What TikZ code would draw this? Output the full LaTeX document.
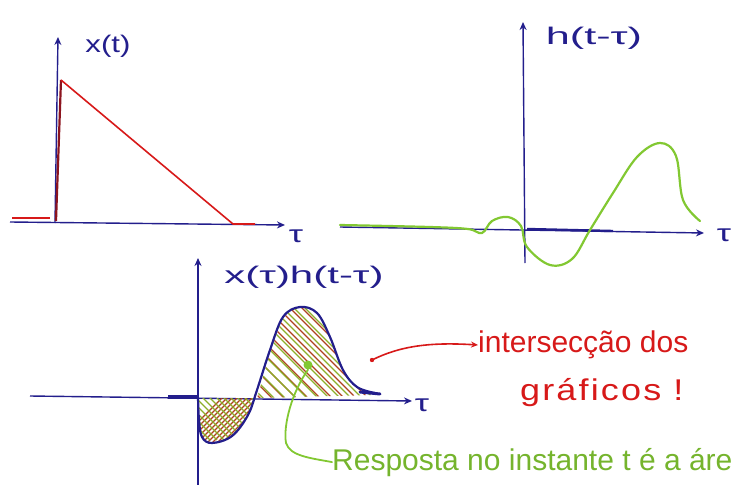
\documentclass[tikz,border=0pt]{standalone}
\usepackage{graphicx}
\usepackage{fontspec}
\setmainfont{Liberation Sans}
\usetikzlibrary{arrows.meta}
\definecolor{axisblue}{RGB}{35,30,140}
\definecolor{penred}{RGB}{215,25,25}
\definecolor{darkred}{RGB}{140,20,30}
\definecolor{pengreen}{RGB}{130,200,50}
\definecolor{hatchbrown}{RGB}{175,65,30}
\definecolor{hatchgreen}{RGB}{140,175,40}
\newcommand{\lsp}[1]{\addfontfeature{LetterSpace=#1}}
\begin{document}
\begin{tikzpicture}[x=1pt,y=-1pt,
  axis/.style={axisblue, line width=1.4pt, -{Stealth[length=8pt,width=7pt]}},
  lbl/.style={text=axisblue, inner sep=0pt, font=\fontsize{24}{24}\selectfont},
  redtxt/.style={text=penred, inner sep=0pt, font=\fontsize{30}{30}\selectfont},
  greentxt/.style={text=pengreen!90!black, inner sep=0pt, font=\fontsize{30}{30}\selectfont},
  redpen/.style={penred, line width=1.6pt},
  greenpen/.style={pengreen, line width=2.2pt, line cap=round, line join=round},
  bluepen/.style={axisblue, line width=2.2pt, line cap=round, line join=round},
  hb/.style={hatchbrown, line width=1.1pt},
  hg/.style={hatchgreen, line width=1.1pt}]
\useasboundingbox (0,0) rectangle (740,485);

% ---------- top-left: x(t) ----------
\coordinate (A1b) at (55,223);
\coordinate (A1t) at (58,37);
\coordinate (A1l) at (10,222);
\coordinate (A1r) at (285,225);
\draw[axis] (A1l) -- (A1r);
\draw[axis] (A1b) -- (A1t);
\node[lbl] (xt) at (108,46) {\scalebox{1.3}[1]{x(t)}};
\node[lbl] (tau1) at (296,236) {\scalebox{1.5}[1]{τ}};
\coordinate (X0) at (56,221);
\coordinate (Xp) at (61,80);
\coordinate (Xe) at (233,224);
\coordinate (Xf) at (255,224);
\draw[redpen] (12,218) -- (50,218);
\draw[darkred, line width=2.2pt] (X0) -- (Xp);
\draw[redpen] (Xp) -- (Xe) -- (Xf);

% ---------- top-right: h(t-tau) ----------
\coordinate (A2b) at (525,263);
\coordinate (A2t) at (523,22);
\coordinate (A2l) at (340,227);
\coordinate (A2r) at (704,233);
\draw[axis] (A2l) -- (A2r);
\draw[axis] (A2b) -- (A2t);
\draw[axisblue, line width=2.4pt] (527,229) -- (613,231);
\node[lbl] (ht) at (594,38) {\scalebox{1.8}[1]{h(t-τ)}};
\node[lbl] (tau2) at (724,235) {\scalebox{1.5}[1]{τ}};
\draw[greenpen] plot[smooth, tension=0.6] coordinates {(340,225) (430,227) (468,229) (482,233) (492,221) (508,217) (521,226) (527,247) (550,265) (572,259) (590,230) (613,193) (637,157) (660,143) (676,156) (683,200) (700,221)};

% ---------- bottom: x(tau)h(t-tau) ----------
\coordinate (A3b) at (198,485);
\coordinate (A3t) at (198,258);
\coordinate (A3l) at (30,396);
\coordinate (A3r) at (412,401);
\draw[axis] (A3l) -- (A3r);
\draw[axis] (A3b) -- (A3t);
\draw[axisblue, line width=3.2pt] (168,397) -- (198,397);
\node[lbl] (xh) at (304,277) {\scalebox{1.75}[1]{x(τ)h(t-τ)}};
\node[lbl] (tau3) at (422,405) {\scalebox{1.5}[1]{τ}};

% hatching, negative lobe
\begin{scope}
\clip plot[smooth] coordinates {(199,398) (200,425) (205,441) (222,441) (240,428) (255,398)} -- cycle;
\foreach \k in {0,5,...,90} \draw[hb] (170+\k,450) -- ++(60,-60);
\foreach \k in {0,7,...,90} \draw[hg] (150+\k,380) -- ++(60,60);
\end{scope}
% hatching, positive lobe
\begin{scope}
\clip plot[smooth] coordinates {(257,398) (260,388) (271,350) (284,317) (300,307) (317,313) (330,337) (343,370) (357,387) (373,395)} -- cycle;
\foreach \k in {0,12,...,200} \draw[hb] (150+\k,300) -- ++(110,110);
\foreach \k in {0,11,...,220} \draw[hg] (220+\k,410) -- ++(-110,-110);
\end{scope}

\draw[bluepen] plot[smooth, tension=0.6] coordinates {(198,397) (199,420) (202,437) (212,443) (232,436) (248,415) (257,390) (270,350) (283,317) (300,307) (317,313) (330,337) (343,370) (357,387) (375,393)};
\draw[axisblue, line width=3pt, line cap=round] (360,392) -- (380,394);

% annotations
\node[circle, fill=pengreen, inner sep=0pt, minimum size=9pt] (dot) at (308,365) {};
\node[greentxt, anchor=base west] (resp) at (332,470) {Resposta no instante t é a áre};
\draw[greenpen, line width=1.8pt] (dot.south) .. controls (292,392) and (283,425) .. (286,443) .. controls (290,456) and (310,458) .. (resp.west);

\coordinate (rstart) at (372,360);
\fill[penred] (rstart) circle (2.2pt);
\node[redtxt, anchor=west] (inter) at (478,345) {intersecção dos};
\node[redtxt, anchor=west] (graf) at (520,393) {\scalebox{1.2}[1]{\lsp{6}gráficos !}};
\draw[redpen, -{Stealth[length=7pt,width=6pt]}] (rstart) .. controls (400,346) and (430,342) .. (inter.west);
\end{tikzpicture}
\end{document}
